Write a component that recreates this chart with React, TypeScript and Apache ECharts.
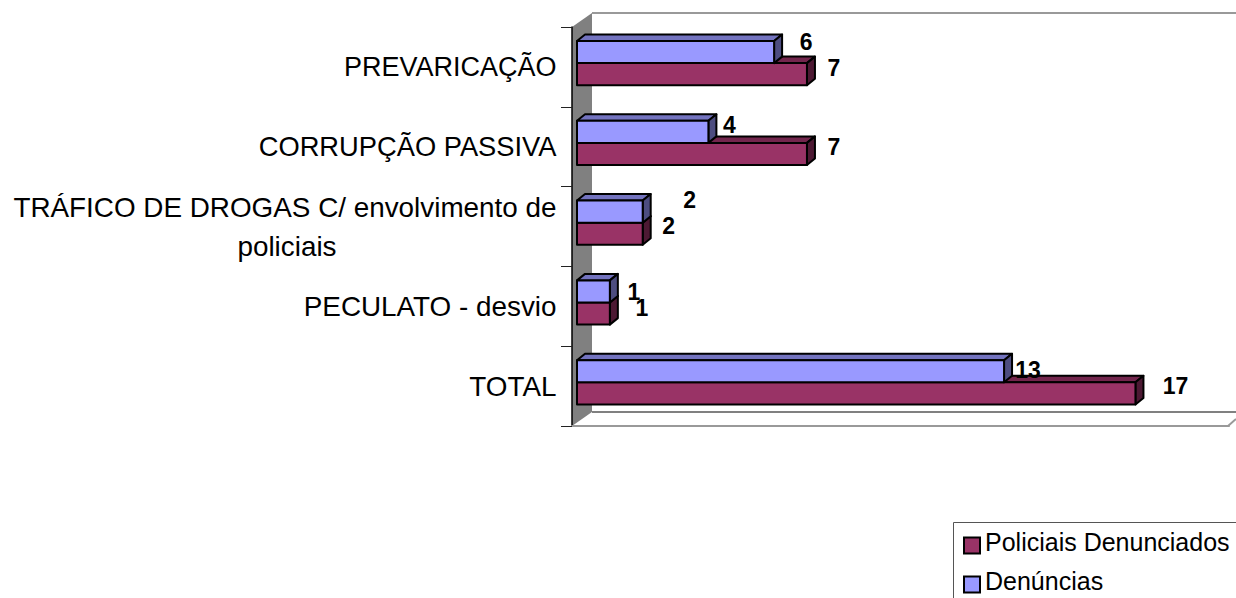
import React, { useEffect, useRef } from "react";
import * as echarts from "echarts";

const categories = [
  "PREVARICAÇÃO",
  "CORRUPÇÃO PASSIVA",
  "TRÁFICO DE DROGAS C/ envolvimento de|policiais",
  "PECULATO - desvio",
  "TOTAL",
];
const denuncias = [6, 4, 2, 1, 13];
const policiais = [7, 7, 2, 1, 17];
const seriesNames = ["Policiais Denunciados", "Denúncias"];

const FONT = '"Liberation Sans", Arial, sans-serif';
const W = 1236;
const H = 598;
const GRID = { left: 572, top: 27, right: 1229, bottom: 426 };
const DEPTH = { x: 20, y: 14 };
const PLANE = { x: 5, y: -3.8 };
const BAR_DEPTH = { x: 8, y: 6.5 };
const RED = { front: "#993366", top: "#73264D", side: "#4D1933" };
const BLUE = { front: "#9999FF", top: "#7373BF", side: "#4D4D80" };

// Label nudges relative to each bar's end / centre, because the source places them by hand.
const denNudge = [[32, -10], [21, -7], [47, -11.5], [24, 1], [24, -1]];
const polNudge = [[27, -6.5], [27, -7], [26, -7.7], [32, -6], [40, -7]];

function makeRenderItem(colors: any, isUpper: boolean, nudge: number[][]) {
  return (_params: any, api: any) => {
    const value = api.value(0);
    const cat = api.value(1);
    const end = api.coord([value, cat]);
    const start = api.coord([0, cat]);
    const thick = api.size([0, 1])[1] * 0.277;
    const cy = end[1] + PLANE.y;
    const x0 = start[0] + PLANE.x;
    const x1 = end[0] + PLANE.x;
    const y0 = isUpper ? cy - thick : cy;
    const y1 = isUpper ? cy : cy + thick;
    const dx = BAR_DEPTH.x;
    const dy = BAR_DEPTH.y;
    const stroke = { stroke: "#000", lineWidth: 2, lineJoin: "round" };
    const n = nudge[cat];
    return {
      type: "group",
      children: [
        {
          type: "polygon",
          shape: { points: [[x0, y0], [x0 + dx, y0 - dy], [x1 + dx, y0 - dy], [x1, y0]] },
          style: { fill: colors.top, ...stroke },
        },
        {
          type: "polygon",
          shape: { points: [[x1, y0], [x1 + dx, y0 - dy], [x1 + dx, y1 - dy], [x1, y1]] },
          style: { fill: colors.side, ...stroke },
        },
        {
          type: "rect",
          shape: { x: x0, y: y0, width: x1 - x0, height: y1 - y0 },
          style: { fill: colors.front, ...stroke },
        },
        {
          type: "text",
          style: {
            text: String(value),
            x: x1 + n[0],
            y: (y0 + y1) / 2 + n[1],
            fill: "#000",
            font: `bold 23px ${FONT}`,
            align: "center",
            verticalAlign: "middle",
          },
        },
      ],
    };
  };
}

export default function App() {
  const ref = useRef<HTMLDivElement>(null);
  useEffect(() => {
    const chart = echarts.init(ref.current!, null, { renderer: "svg" });
    const g = GRID;
    const d = DEPTH;
    chart.setOption({
      animation: false,
      backgroundColor: "#fff",
      grid: { left: g.left, top: g.top, width: g.right - g.left, height: g.bottom - g.top },
      xAxis: {
        type: "value",
        min: 0,
        max: 20,
        interval: 5,
        axisLabel: { show: false },
        axisTick: { show: false },
        splitLine: { show: false },
        axisLine: { show: true, lineStyle: { color: "#999", width: 2 } },
      },
      yAxis: {
        type: "category",
        inverse: true,
        data: categories,
        axisLine: { show: true, lineStyle: { color: "#000", width: 1.5 } },
        axisTick: { show: true, length: 11, alignWithLabel: false, lineStyle: { color: "#222", width: 1 } },
        axisLabel: {
          margin: 15.5,
          color: "#000",
          fontFamily: FONT,
          fontSize: 27.85,
          align: "right",
          formatter: (v: string) => {
            const parts = v.split("|");
            if (parts.length > 1) return `{a|${parts[0]}}\n{b|${parts[1]}}`;
            if (v === "PREVARICAÇÃO") return `{p|${v}}`;
            if (v === "CORRUPÇÃO PASSIVA") return `{c|${v}}`;
            return `{a|${v}}`;
          },
          rich: {
            a: { fontFamily: FONT, fontSize: 27.85, color: "#000", lineHeight: 39 },
            p: { fontFamily: FONT, fontSize: 27, color: "#000", lineHeight: 39 },
            c: { fontFamily: FONT, fontSize: 27.3, color: "#000", lineHeight: 39 },
            b: { fontFamily: FONT, fontSize: 27.85, color: "#000", lineHeight: 39, padding: [0, 220, 0, 0] },
          },
        },
      },
      legend: {
        show: true,
        orient: "vertical",
        left: 954,
        top: 522,
        height: 100,
        width: 300,
        padding: [7, 0, 0, 9],
        itemGap: 6,
        itemWidth: 16,
        itemHeight: 16,
        icon: "rect",
        formatter: (name: string) => `{t|${name}}`,
        textStyle: {
          fontFamily: FONT,
          fontSize: 25,
          color: "#000",
          rich: {
            t: { fontFamily: FONT, fontSize: 25, color: "#000", lineHeight: 28, padding: [0, 0, 8, 0] },
          },
        },
        data: seriesNames,
      },
      graphic: [
        {
          type: "polygon",
          z: -1,
          shape: {
            points: [
              [g.left, g.top],
              [g.left + d.x, g.top - d.y],
              [g.left + d.x, g.bottom - d.y],
              [g.left, g.bottom],
            ],
          },
          style: { fill: "#808080" },
        },
        {
          type: "polyline",
          z: -1,
          shape: { points: [[g.left + d.x, g.top - d.y], [W, g.top - d.y]] },
          style: { stroke: "#999", lineWidth: 2, fill: "none" },
        },
        {
          type: "polyline",
          z: -1,
          shape: { points: [[g.left + d.x, g.bottom - d.y], [W, g.bottom - d.y]] },
          style: { stroke: "#808080", lineWidth: 2, fill: "none" },
        },
        {
          type: "polyline",
          z: -1,
          shape: { points: [[g.right - 1, g.bottom], [W, g.bottom - 7]] },
          style: { stroke: "#999", lineWidth: 2, fill: "none" },
        },
        {
          type: "rect",
          z: -1,
          shape: { x: 953.5, y: 522.5, width: 320, height: 120 },
          style: { fill: "#fff", stroke: "#555", lineWidth: 1 },
        },
      ],
      series: [
        {
          name: seriesNames[0],
          type: "custom",
          clip: false,
          encode: { x: 0, y: 1 },
          itemStyle: { color: RED.front, borderColor: "#000", borderWidth: 2 },
          renderItem: makeRenderItem(RED, false, polNudge),
          data: policiais.map((v, i) => [v, i]),
        },
        {
          name: seriesNames[1],
          type: "custom",
          clip: false,
          encode: { x: 0, y: 1 },
          itemStyle: { color: BLUE.front, borderColor: "#000", borderWidth: 2 },
          renderItem: makeRenderItem(BLUE, true, denNudge),
          data: denuncias.map((v, i) => [v, i]),
        },
      ],
    });
    return () => chart.dispose();
  }, []);
  return <div ref={ref} style={{ position: "fixed", left: 0, top: 0, width: W, height: H }} />;
}
